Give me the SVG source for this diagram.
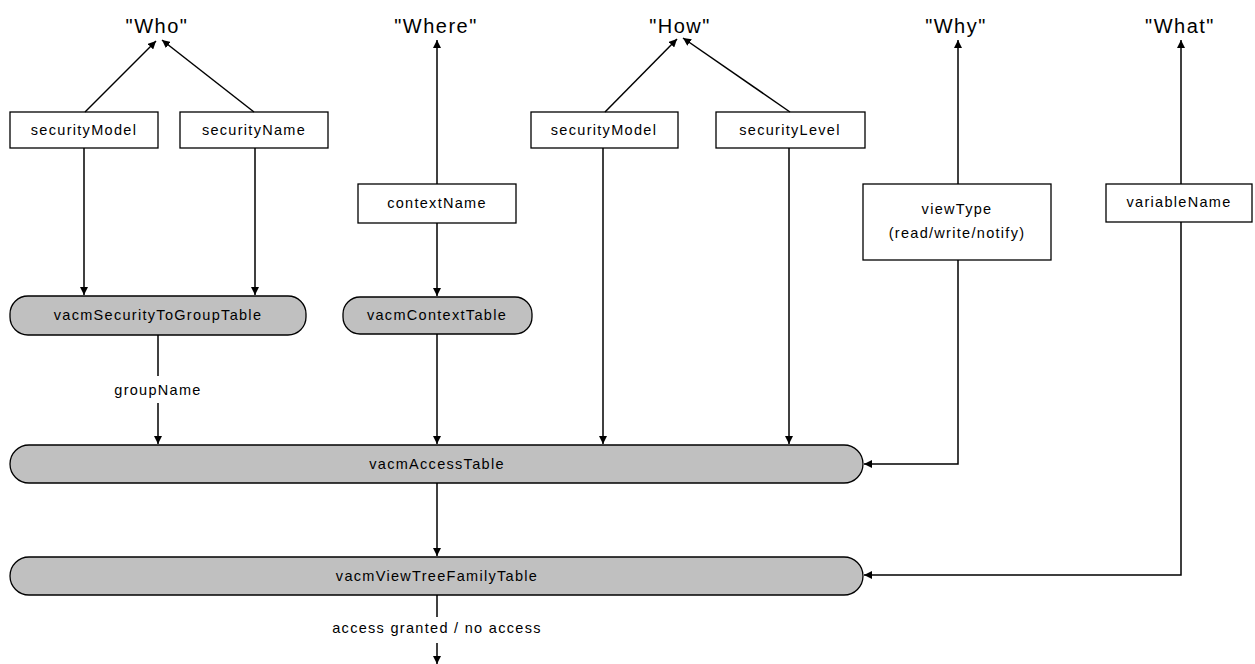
<svg xmlns="http://www.w3.org/2000/svg" width="1255" height="664" viewBox="0 0 1255 664">
<style>
text{font-family:"Liberation Sans",Arial,sans-serif;fill:#000}
.t{font-size:14.5px;letter-spacing:1.3px;text-anchor:middle}
.h{font-size:20px;letter-spacing:1.5px;text-anchor:middle}
.box{fill:#fff;stroke:#000;stroke-width:1.3}
.tbl{fill:#c0c0c0;stroke:#000;stroke-width:1.3}
.ln{fill:none;stroke:#000;stroke-width:1.5}
</style>
<defs>
<marker id="ah" markerWidth="8" markerHeight="8" refX="8" refY="4" orient="auto" markerUnits="userSpaceOnUse">
<path d="M0,0 L8,4 L0,8 Z" fill="#000"/>
</marker>
</defs>
<g id="labels">
<text class="h" x="157" y="33">"Who"</text>
<text class="h" x="436" y="33">"Where"</text>
<text class="h" x="680" y="33">"How"</text>
<text class="h" x="956" y="33">"Why"</text>
<text class="h" x="1180" y="33">"What"</text>
</g>
<g id="n_secModel1"><rect class="box" x="10" y="112" width="148" height="36"/><text class="t" x="84" y="135">securityModel</text></g>
<g id="n_secName"><rect class="box" x="180" y="112" width="148" height="36"/><text class="t" x="254" y="135">securityName</text></g>
<g id="n_contextName"><rect class="box" x="358" y="184" width="158" height="39"/><text class="t" x="437" y="208">contextName</text></g>
<g id="n_secModel2"><rect class="box" x="531" y="112" width="147" height="36"/><text class="t" x="604" y="135">securityModel</text></g>
<g id="n_secLevel"><rect class="box" x="716" y="112" width="149" height="36"/><text class="t" x="790" y="135">securityLevel</text></g>
<g id="n_viewType"><rect class="box" x="863" y="184" width="188" height="76"/><text class="t" x="957" y="214">viewType</text><text class="t" x="957" y="238">(read/write/notify)</text></g>
<g id="n_variableName"><rect class="box" x="1106" y="184" width="146" height="38"/><text class="t" x="1179" y="207">variableName</text></g>
<g id="n_secToGroup"><rect class="tbl" x="10" y="296" width="296" height="39" rx="18" ry="18"/><text class="t" x="158" y="320">vacmSecurityToGroupTable</text></g>
<g id="n_contextTable"><rect class="tbl" x="343" y="297" width="189" height="37" rx="17" ry="17"/><text class="t" x="437" y="320">vacmContextTable</text></g>
<g id="n_accessTable"><rect class="tbl" x="10" y="445" width="853" height="38" rx="19" ry="19"/><text class="t" x="437" y="469">vacmAccessTable</text></g>
<g id="n_viewTree"><rect class="tbl" x="10" y="557" width="853" height="38" rx="19" ry="19"/><text class="t" x="437" y="581">vacmViewTreeFamilyTable</text></g>
<g id="edge_labels">
<text class="t" x="158" y="395">groupName</text>
<text class="t" x="437" y="633">access granted / no access</text>
</g>
<g id="connectors">
<line class="ln" x1="85" y1="112" x2="156" y2="41" marker-end="url(#ah)"/>
<line class="ln" x1="254" y1="112" x2="162" y2="40" marker-end="url(#ah)"/>
<line class="ln" x1="437" y1="184" x2="437" y2="40" marker-end="url(#ah)"/>
<line class="ln" x1="605" y1="112" x2="677" y2="39" marker-end="url(#ah)"/>
<line class="ln" x1="790" y1="112" x2="683" y2="38" marker-end="url(#ah)"/>
<line class="ln" x1="958" y1="184" x2="958" y2="40" marker-end="url(#ah)"/>
<line class="ln" x1="1181" y1="184" x2="1181" y2="40" marker-end="url(#ah)"/>
<line class="ln" x1="84" y1="148" x2="84" y2="295" marker-end="url(#ah)"/>
<line class="ln" x1="255" y1="148" x2="255" y2="295" marker-end="url(#ah)"/>
<line class="ln" x1="437" y1="223" x2="437" y2="296" marker-end="url(#ah)"/>
<line class="ln" x1="158" y1="335" x2="158" y2="376"/>
<line class="ln" x1="158" y1="403" x2="158" y2="444" marker-end="url(#ah)"/>
<line class="ln" x1="437" y1="334" x2="437" y2="444" marker-end="url(#ah)"/>
<line class="ln" x1="603" y1="148" x2="603" y2="444" marker-end="url(#ah)"/>
<line class="ln" x1="789" y1="148" x2="789" y2="444" marker-end="url(#ah)"/>
<polyline class="ln" points="958,260 958,464 864,464" marker-end="url(#ah)"/>
<polyline class="ln" points="1181,222 1181,575 864,575" marker-end="url(#ah)"/>
<line class="ln" x1="437" y1="483" x2="437" y2="556" marker-end="url(#ah)"/>
<line class="ln" x1="437" y1="595" x2="437" y2="617"/>
<line class="ln" x1="437" y1="643" x2="437" y2="664" marker-end="url(#ah)"/>
</g>
</svg>
